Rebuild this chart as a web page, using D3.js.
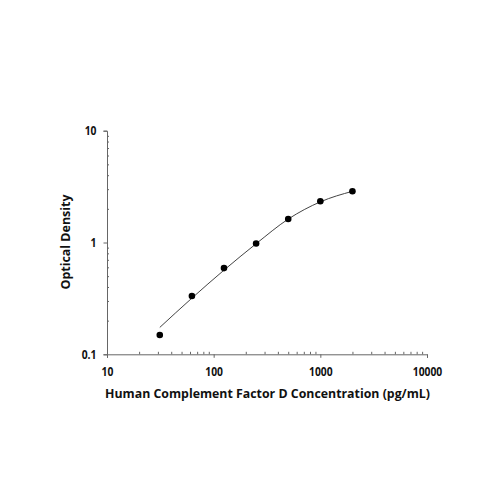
<!DOCTYPE html>
<html><head><meta charset="utf-8">
<script src="https://cdn.jsdelivr.net/npm/d3@7"></script>
<style>body{margin:0;background:#fff}svg{display:block}</style>
</head><body>
<svg id="c" width="500" height="500"></svg>
<script>
const concentrations = [31.25, 62.5, 125, 250, 500, 1000, 2000];
const odValues = [0.149, 0.332, 0.59, 0.98, 1.625, 2.34, 2.87];
const curveOD = [0.174, 0.318, 0.566, 0.975, 1.62, 2.31, 2.87];
const xTicks = [10, 100, 1000, 10000];
const yTicks = [0.1, 1, 10];
const xTitle = "Human Complement Factor D Concentration (pg/mL)";
const yTitle = "Optical Density";

const svg = d3.select("#c");
const x = d3.scaleLog().domain([10, 10000]).range([107, 427]);
const y = d3.scaleLog().domain([0.1, 10]).range([354.3, 130.7]);
const axisColor = "#666";
const font = "'Open Sans', sans-serif";

function minors(domain) {
  const out = [];
  for (let d = domain[0]; d < domain[1]; d *= 10)
    for (let k = 2; k <= 9; k++) out.push(d * k);
  return out;
}

// x axis
const gx = svg.append("g").attr("transform", "translate(0,354.3)");
gx.call(d3.axisBottom(x).tickValues(xTicks).tickFormat(d3.format("d")).tickSizeOuter(0).tickSize(3.5).tickPadding(9.5));
gx.append("g").call(d3.axisTop(x).tickValues(minors([10, 10000])).tickFormat("").tickSize(2.5).tickSizeOuter(0))
  .select(".domain").remove();
// y axis
const gy = svg.append("g").attr("transform", "translate(107,0)");
gy.call(d3.axisLeft(y).tickValues(yTicks).tickFormat(d => d < 1 ? "0.1" : d3.format("d")(d)).tickSizeOuter(0).tickSize(3.5).tickPadding(7));
gy.append("g").call(d3.axisRight(y).tickValues(minors([0.1, 10])).tickFormat("").tickSize(2).tickSizeOuter(0))
  .select(".domain").remove();

svg.selectAll(".domain").attr("stroke", axisColor);
svg.selectAll(".tick line").attr("stroke", axisColor);
svg.selectAll(".tick text").attr("font-family", font).attr("font-size", 12).attr("font-weight", 700).attr("fill", "#111");
svg.selectAll(".tick text").each(function () {
  const t = d3.select(this);
  const w = this.getComputedTextLength();
  t.attr("textLength", (w * 0.86).toFixed(1)).attr("lengthAdjust", "spacingAndGlyphs");
});

// curve
const line = d3.line().x((d, i) => x(concentrations[i])).y(d => y(d)).curve(d3.curveMonotoneX);
svg.append("path").attr("d", line(curveOD)).attr("fill", "none").attr("stroke", "#444").attr("stroke-width", 1);

// points
svg.append("g").selectAll("circle").data(odValues).join("circle")
  .attr("cx", (d, i) => x(concentrations[i])).attr("cy", d => y(d)).attr("r", 3.3).attr("fill", "#000");

// titles
svg.append("text").attr("x", 267.5).attr("y", 398).attr("text-anchor", "middle")
  .attr("font-family", font).attr("font-size", 13).attr("font-weight", 700).attr("fill", "#111")
  .attr("textLength", 325).attr("lengthAdjust", "spacingAndGlyphs").text(xTitle);
svg.append("text").attr("transform", "translate(69.5,242) rotate(-90)").attr("text-anchor", "middle")
  .attr("font-family", font).attr("font-size", 13).attr("font-weight", 700).attr("fill", "#111")
  .attr("textLength", 95).attr("lengthAdjust", "spacingAndGlyphs").text(yTitle);
</script>
</body></html>
